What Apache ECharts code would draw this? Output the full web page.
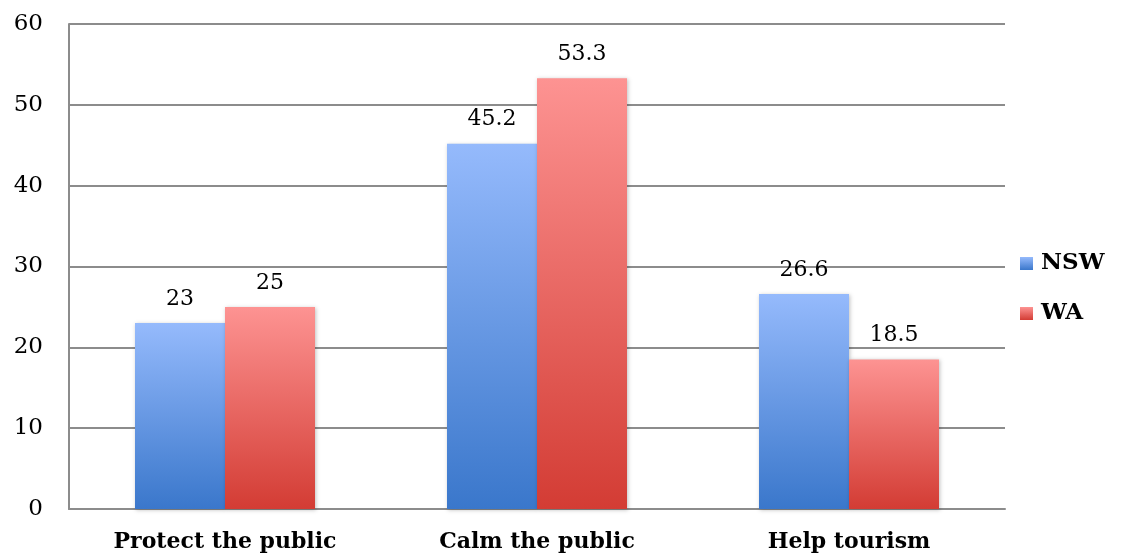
<!DOCTYPE html>
<html><head><meta charset="utf-8">
<script src="https://cdn.jsdelivr.net/npm/echarts@6/dist/echarts.min.js"></script>
<style>html,body{margin:0;padding:0;background:#fff}#c{width:1133px;height:558px}</style>
</head><body><div id="c"></div>
<script>
const categories = ['Protect the public', 'Calm the public', 'Help tourism'];
const nswValues = [23, 45.2, 26.6];
const waValues = [25, 53.3, 18.5];
const yTicks = [0, 10, 20, 30, 40, 50, 60];

const serif = '"DejaVu Serif", "Liberation Serif", serif';
function grad(top, bottom) {
  return new echarts.graphic.LinearGradient(0, 0, 0, 1, [{offset: 0, color: top}, {offset: 1, color: bottom}]);
}
const chart = echarts.init(document.getElementById('c'), null, {renderer: 'canvas'});
chart.setOption({
  animation: false,
  grid: {left: 69, right: 128, top: 24, bottom: 49},
  legend: {
    orient: 'vertical', left: 1020, top: 252, itemWidth: 13, itemHeight: 13, itemGap: 27, padding: 0,
    icon: 'rect',
    textStyle: {fontFamily: serif, fontWeight: 'bold', fontSize: 23, color: '#000', padding: [0, 0, 0, 3]},
    data: ['NSW', 'WA']
  },
  xAxis: {
    type: 'category', data: categories,
    axisLine: {show: true, lineStyle: {color: '#8c8c8c', width: 2}},
    axisTick: {show: false},
    axisLabel: {fontFamily: serif, fontWeight: 'bold', fontSize: 22, color: '#000', margin: 22}
  },
  yAxis: {
    type: 'value', min: yTicks[0], max: yTicks[yTicks.length - 1], interval: 10,
    axisLine: {show: true, lineStyle: {color: '#8c8c8c', width: 2}},
    axisTick: {show: false},
    splitLine: {lineStyle: {color: '#8c8c8c', width: 2}},
    axisLabel: {fontFamily: serif, fontSize: 23, color: '#000', margin: 26}
  },
  series: [
    {
      name: 'NSW', type: 'bar', data: nswValues, barWidth: 90, barGap: '0%',
      itemStyle: {color: grad('#95bafc', '#3a77cb'), shadowColor: 'rgba(0,0,0,0.25)', shadowBlur: 4, shadowOffsetX: 1, shadowOffsetY: 1},
      label: {show: true, position: 'top', distance: 13, fontFamily: serif, fontSize: 22, color: '#000'}
    },
    {
      name: 'WA', type: 'bar', data: waValues, barWidth: 90,
      itemStyle: {color: grad('#fd9392', '#d33c34'), shadowColor: 'rgba(0,0,0,0.25)', shadowBlur: 4, shadowOffsetX: 1, shadowOffsetY: 1},
      label: {show: true, position: 'top', distance: 13, fontFamily: serif, fontSize: 22, color: '#000'}
    }
  ]
});
</script></body></html>
